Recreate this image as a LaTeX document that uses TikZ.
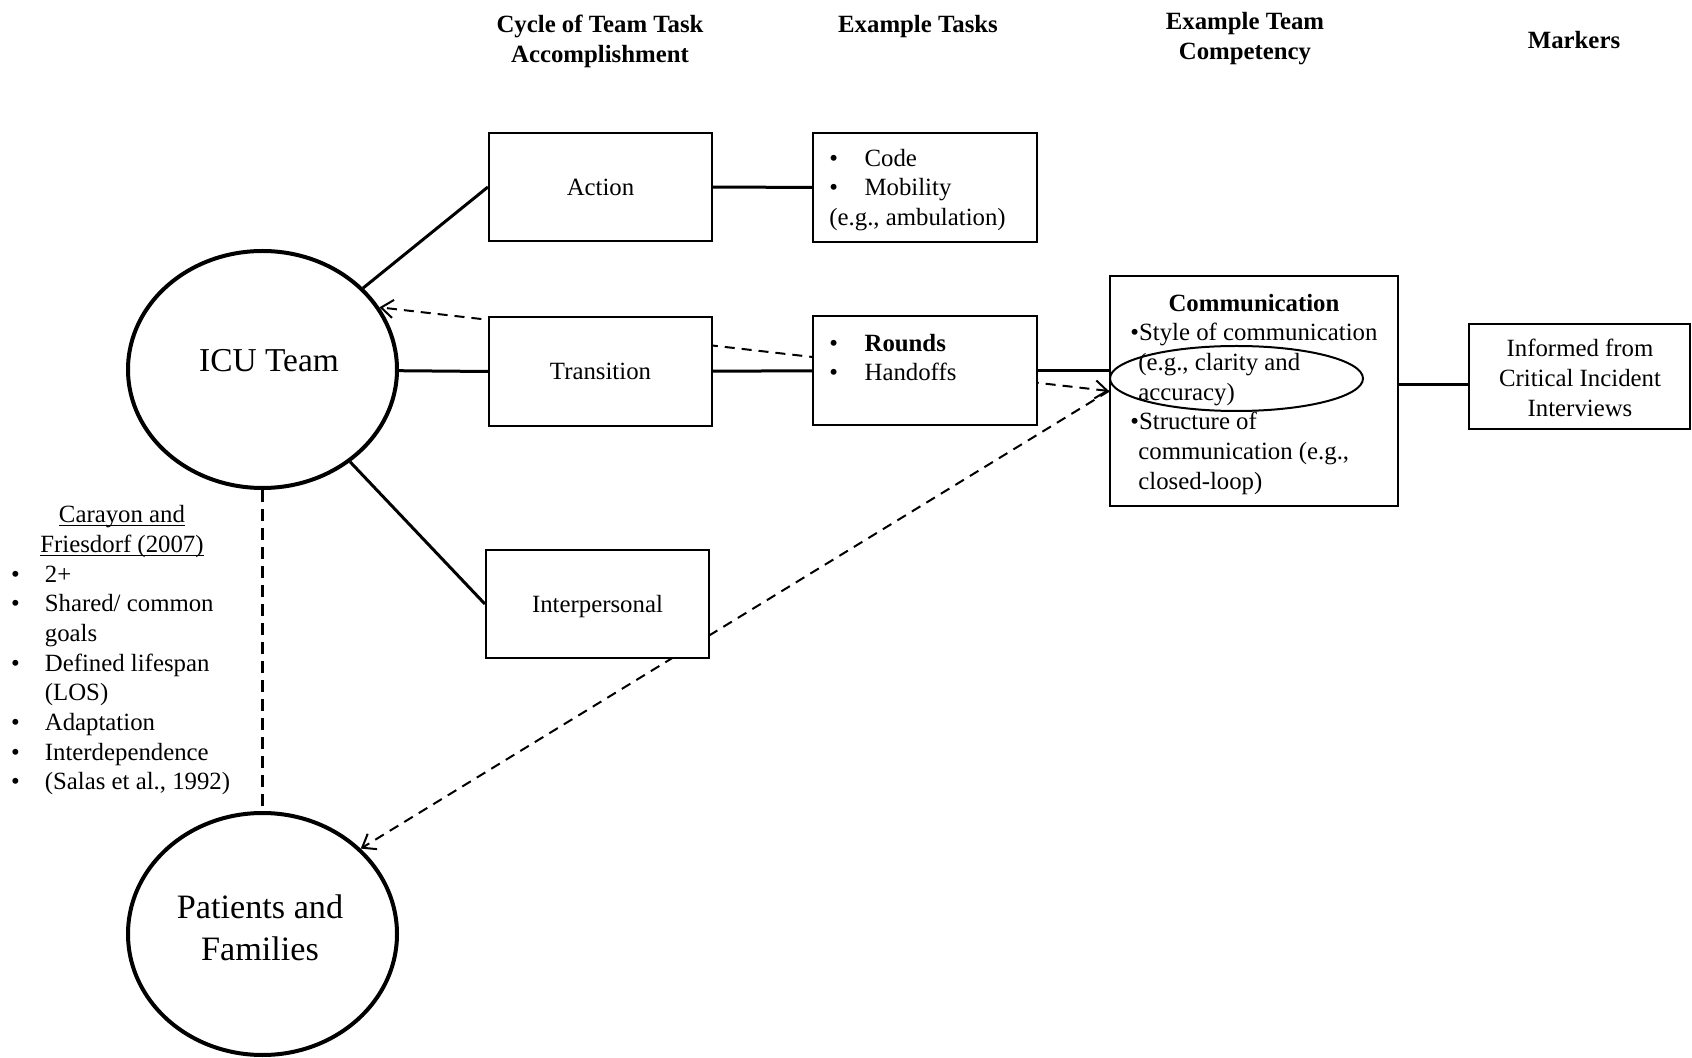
\documentclass[tikz,border=0pt]{standalone}
\usepackage{fontspec}
\setmainfont{Liberation Serif}
\usetikzlibrary{shapes.geometric,arrows.meta,backgrounds,calc}
\newsavebox\ulbox
\newcommand\myul[1]{\sbox\ulbox{#1}\rlap{\vrule height -1.3pt depth 2.0pt width \wd\ulbox}\usebox\ulbox}
\begin{document}
\begin{tikzpicture}[x=0.5pt,y=-0.5pt,
  every node/.style={font=\fontsize{12.4}{14.85}\selectfont},
  box/.style={draw, rectangle, line width=1.1pt, fill=white, inner sep=0pt, text depth=0pt},
  oval/.style={draw, ellipse, line width=2pt, fill=white, inner sep=0pt},
  txt/.style={anchor=base west, inner sep=0pt},
  ctxt/.style={anchor=base, inner sep=0pt},
  hdr/.style={anchor=base, inner sep=0pt, font=\fontsize{12.4}{14.85}\selectfont\bfseries},
  conn/.style={line width=1.5pt},
  dsh/.style={line width=1pt, dash pattern=on 5pt off 3.5pt},
  vdsh/.style={line width=1.75pt, dash pattern=on 6pt off 3.5pt},
  >={Straight Barb[length=6pt,width=9pt]}
]
\useasboundingbox (0,0) rectangle (1692,1058);

% headers
\node[hdr] (h1a) at (600,32.5) {Cycle of Team Task};
\node[hdr] (h1b) at (600,62.5) {Accomplishment};
\node[hdr] (h2) at (918,32.5) {Example Tasks};
\node[hdr] (h3a) at (1245,29.5) {Example Team};
\node[hdr] (h3b) at (1245,59.5) {Competency};
\node[hdr] (h4) at (1574,48.5) {Markers};

% ellipses
\node[oval, minimum width=134.5pt, minimum height=118.5pt] (icu) at (262.5,369.5) {};
\node[oval, minimum width=134.5pt, minimum height=121pt] (patients) at (262.5,934) {};
\node[ctxt, font=\fontsize{16.7}{20}\selectfont] (icut) at (269,372) {ICU Team};
\node[ctxt, font=\fontsize{17.1}{21}\selectfont] (pt1) at (260,918) {Patients and};
\node[ctxt, font=\fontsize{17.1}{21}\selectfont] (pt2) at (260,960) {Families};

% boxes
\node[box, minimum width=111.5pt, minimum height=54pt] (action) at (600.5,187) {Action};
\node[box, minimum width=112pt, minimum height=54.5pt] (ex1) at (925,187.5) {};
\node[box, minimum width=111.5pt, minimum height=54.5pt] (transition) at (600.5,371.5) {Transition};
\node[box, minimum width=112pt, minimum height=54.5pt] (rounds) at (925,370.5) {};
\node[box, minimum width=111.5pt, minimum height=54pt] (interp) at (597.5,604) {Interpersonal};
\node[box, minimum width=144pt, minimum height=115pt] (comm) at (1254,391) {};
\node[box, minimum width=110.5pt, minimum height=52.5pt] (markers) at (1579.5,376.5) {};

% box texts
\node[txt] (e1a) at (829,166.5) {\makebox[17.6pt][l]{•}Code};
\node[txt] (e1b) at (829,196) {\makebox[17.6pt][l]{•}Mobility};
\node[txt] (e1c) at (829,225.5) {(e.g., ambulation)};

\node[txt] (r1) at (829,351.5) {\makebox[17.6pt][l]{•}\textbf{Rounds}};
\node[txt] (r2) at (829,380.5) {\makebox[17.6pt][l]{•}Handoffs};

\node[ctxt, font=\fontsize{12.4}{14.85}\selectfont\bfseries] (c0) at (1254,311.5) {Communication};
\node[txt] (c1) at (1130,340.5) {•Style of communication};
\node[txt] (c2) at (1138,370.5) {(e.g., clarity and};
\node[txt] (c3) at (1138,400.5) {accuracy)};
\node[txt] (c4) at (1130,430) {•Structure of};
\node[txt] (c5) at (1138,459.5) {communication (e.g.,};
\node[txt] (c6) at (1138,489.5) {closed-loop)};
\node[draw, ellipse, line width=1pt, inner sep=0pt, minimum width=126.5pt, minimum height=32.5pt] (focus) at (1236.5,378.5) {};

\node[ctxt] (m1) at (1580,357) {Informed from};
\node[ctxt] (m2) at (1580,387) {Critical Incident};
\node[ctxt] (m3) at (1580,416.5) {Interviews};

% left list
\node[ctxt] (l0) at (122,522.5) {\myul{Carayon and}};
\node[ctxt] (l1) at (122,552.5) {\myul{Friesdorf (2007)}};
\node[txt] (l2) at (10.7,582.5) {\makebox[16.9pt][l]{•}2+};
\node[txt] (l3) at (10.7,612) {\makebox[16.9pt][l]{•}Shared/ common};
\node[txt] (l4) at (44.5,641.5) {goals};
\node[txt] (l5) at (10.7,671) {\makebox[16.9pt][l]{•}Defined lifespan};
\node[txt] (l6) at (44.5,700.5) {(LOS)};
\node[txt] (l7) at (10.7,730.5) {\makebox[16.9pt][l]{•}Adaptation};
\node[txt] (l8) at (10.7,760) {\makebox[16.9pt][l]{•}Interdependence};
\node[txt] (l9) at (10.7,789.5) {\makebox[16.9pt][l]{•}(Salas et al., 1992)};

% connectors
\begin{scope}[on background layer]
\draw[conn] (icu) -- (action.west);
\draw[conn] (icu) -- (transition.west);
\draw[conn] (icu) -- (interp.west);
\draw[conn] (action) -- (ex1);
\draw[conn] (transition) -- (rounds);
\draw[conn] (rounds.east) -- (rounds.east -| comm.west);
\draw[conn] (comm.east |- 0,385) -- (markers.west |- 0,385);
\draw[vdsh] (icu.south) -- (patients.north);
\draw[dsh,<->] (comm.west) -- (icu.28);
\draw[dsh,->] (comm.west) -- (patients.41);
\end{scope}
\end{tikzpicture}
\end{document}
